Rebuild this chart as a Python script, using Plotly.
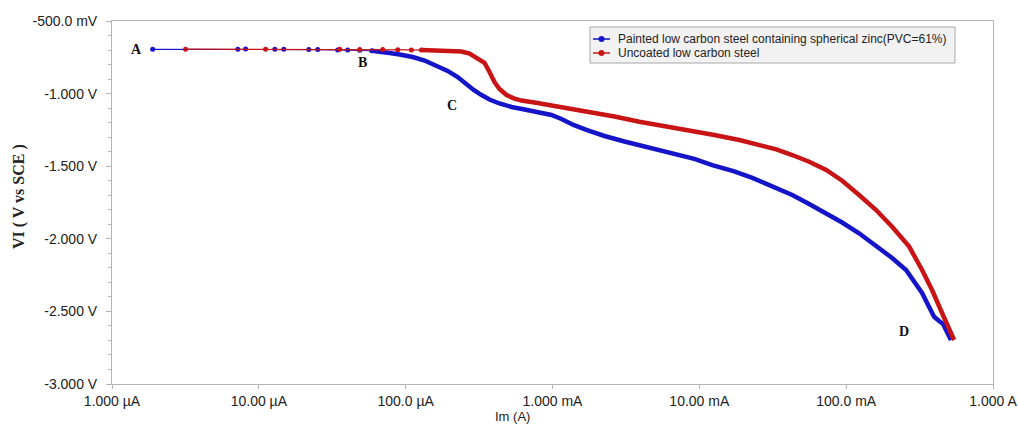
import math
import plotly.graph_objects as go

# ---- data (current as log10 of amperes, potential in volts) ----
# Blue: Painted low carbon steel containing spherical zinc (PVC=61%)
blue_log10_current = [-5.723, -5.143, -5.090, -4.891, -4.830, -4.660, -4.599, -4.463,
                      -4.395, -4.313, -4.231,
                      -4.204, -4.109, -4.041, -3.952, -3.871, -3.789, -3.714, -3.646,
                      -3.592, -3.537, -3.483, -3.429, -3.361, -3.279, -3.190, -3.088,
                      -3.007, -2.939, -2.857, -2.769, -2.646, -2.510, -2.340, -2.170,
                      -2.034, -1.912, -1.762, -1.639, -1.503, -1.367, -1.252, -1.136,
                      -1.027, -0.912, -0.844, -0.776, -0.687, -0.592, -0.537, -0.483,
                      -0.442, -0.401, -0.367, -0.340, -0.320, -0.299, -0.286]
blue_potential = [-0.695, -0.694, -0.693, -0.695, -0.694, -0.697, -0.697, -0.699,
                  -0.700, -0.702, -0.705,
                  -0.710, -0.720, -0.731, -0.748, -0.772, -0.810, -0.844, -0.886,
                  -0.934, -0.975, -1.010, -1.041, -1.068, -1.092, -1.110, -1.130,
                  -1.147, -1.175, -1.216, -1.250, -1.292, -1.330, -1.371, -1.413,
                  -1.450, -1.492, -1.536, -1.581, -1.636, -1.698, -1.760, -1.824,
                  -1.888, -1.962, -2.012, -2.065, -2.132, -2.215, -2.291, -2.373,
                  -2.456, -2.537, -2.566, -2.587, -2.628, -2.669, -2.697]
blue_sparse_count = 11

# Red: Uncoated low carbon steel
red_log10_current = [-5.499, -4.954, -4.449, -4.313, -4.156, -4.054, -3.961, -3.893,
                     -3.803, -3.701, -3.619, -3.565, -3.497, -3.463, -3.429, -3.395,
                     -3.361, -3.313, -3.259, -3.211, -3.122, -3.020, -2.884, -2.748,
                     -2.578, -2.408, -2.238, -2.068, -1.898, -1.728, -1.592, -1.476,
                     -1.367, -1.252, -1.136, -1.027, -0.912, -0.796, -0.687, -0.571,
                     -0.483, -0.415, -0.347, -0.299, -0.265]
red_potential = [-0.694, -0.694, -0.695, -0.696, -0.697, -0.698, -0.699, -0.700,
                 -0.703, -0.706, -0.710, -0.724, -0.762, -0.789, -0.851, -0.920,
                 -0.968, -1.010, -1.034, -1.048, -1.061, -1.079, -1.099, -1.125,
                 -1.158, -1.194, -1.223, -1.251, -1.285, -1.320, -1.354, -1.384,
                 -1.423, -1.469, -1.526, -1.600, -1.698, -1.802, -1.917, -2.054,
                 -2.215, -2.353, -2.511, -2.614, -2.697]
red_sparse_count = 8

x_tickvals = [1e-6, 1e-5, 1e-4, 1e-3, 1e-2, 1e-1, 1.0]
x_ticktext = ["1.000 µA", "10.00 µA", "100.0 µA", "1.000 mA", "10.00 mA", "100.0 mA", "1.000 A"]
y_tickvals = [-0.5, -1.0, -1.5, -2.0, -2.5, -3.0]
y_ticktext = ["-500.0 mV", "-1.000 V", "-1.500 V", "-2.000 V", "-2.500 V", "-3.000 V"]

point_labels = ["A", "B", "C", "D"]
label_current = [1.46e-6, 5.09e-5, 2.08e-4, 0.248]
label_potential = [-0.696, -0.789, -1.079, -2.635]

series_names = ["Painted low carbon steel containing spherical zinc(PVC=61%)",
                "Uncoated low carbon steel"]

BLUE = "#1414c8"
RED = "#c81414"
AXIS = "#b4b4b4"
TXT = "#222222"

blue_current = [10 ** e for e in blue_log10_current]
red_current = [10 ** e for e in red_log10_current]

# ---- pixel helpers for layout elements (plot area 112..993 x 21..384) ----
L, T, W, H = 112, 21, 881, 363
def px(x):
    return (x - L) / W
def py(y):
    return 1 - (y - T) / H

fig = go.Figure()

series = [
    (series_names[0], blue_current, blue_potential, blue_sparse_count, BLUE),
    (series_names[1], red_current, red_potential, red_sparse_count, RED),
]
for name, xs, ys, n, col in series:
    fig.add_trace(go.Scatter(
        x=xs[n - 1:], y=ys[n - 1:], mode="lines",
        line=dict(color=col, width=4.5),
        showlegend=False, hoverinfo="skip"))
for name, xs, ys, n, col in series:
    fig.add_trace(go.Scatter(
        x=xs[:n], y=ys[:n], mode="lines+markers", name=name, showlegend=False,
        line=dict(color=col, width=1.2),
        marker=dict(color=col, size=5)))

for t, xv, yv in zip(point_labels, label_current, label_potential):
    fig.add_annotation(x=math.log10(xv), y=yv, xref="x", yref="y", text="<b>%s</b>" % t,
                       showarrow=False,
                       font=dict(family="Liberation Serif", size=14, color="#111111"))

# axis titles
fig.add_annotation(x=px(512), y=py(416), xref="paper", yref="paper", text="Im (A)",
                   showarrow=False, xanchor="center", yanchor="middle",
                   font=dict(family="Liberation Sans", size=13, color=TXT))
fig.add_annotation(x=px(19), y=py(197), xref="paper", yref="paper",
                   text="<b>VI ( V vs SCE )</b>", textangle=-90,
                   showarrow=False, xanchor="center", yanchor="middle",
                   font=dict(family="Liberation Serif", size=16, color=TXT))

# custom legend box
shapes = [dict(type="rect", xref="paper", yref="paper",
               x0=px(590), x1=px(955), y0=py(63), y1=py(27),
               fillcolor="#f2f2f2", line=dict(color="#a8a8a8", width=1), layer="above")]
for (name, xs, ys, n, col), row_y in zip(series, [39, 53]):
    shapes.append(dict(type="line", xref="paper", yref="paper",
                       x0=px(593), x1=px(610), y0=py(row_y), y1=py(row_y),
                       line=dict(color=col, width=1.5), layer="above"))
    shapes.append(dict(type="circle", xref="paper", yref="paper",
                       xsizemode="pixel", ysizemode="pixel",
                       xanchor=px(601.5), yanchor=py(row_y),
                       x0=-3, x1=3, y0=-3, y1=3,
                       fillcolor=col, line=dict(color=col, width=0), layer="above"))
    fig.add_annotation(x=px(616), y=py(row_y), xref="paper", yref="paper", text=name,
                       showarrow=False, xanchor="left", yanchor="middle",
                       font=dict(family="Liberation Sans", size=12, color=TXT))

fig.update_layout(
    width=1018, height=427,
    margin=dict(l=L, r=1018 - L - W, t=T, b=427 - T - H, autoexpand=False),
    paper_bgcolor="white", plot_bgcolor="white",
    showlegend=False,
    shapes=shapes,
    font=dict(family="Liberation Sans", size=14, color=TXT),
    xaxis=dict(type="log", range=[-6, 0], tickvals=x_tickvals, ticktext=x_ticktext,
               automargin=False,
               showgrid=False, zeroline=False, showline=True, mirror=True,
               linecolor=AXIS, linewidth=1, ticks="outside", ticklen=4, tickcolor=AXIS,
               tickfont=dict(size=14, color=TXT)),
    yaxis=dict(range=[-3.0, -0.5], tickvals=y_tickvals, ticktext=y_ticktext,
               automargin=False,
               showgrid=False, zeroline=False, showline=True, mirror=True,
               linecolor=AXIS, linewidth=1, ticks="outside", ticklen=5, tickcolor=AXIS,
               ticklabelstandoff=6,
               tickfont=dict(size=14, color=TXT),
               minor=dict(dtick=0.1, ticks="outside", ticklen=3, tickcolor=AXIS)),
)

fig.write_html("out.html")
